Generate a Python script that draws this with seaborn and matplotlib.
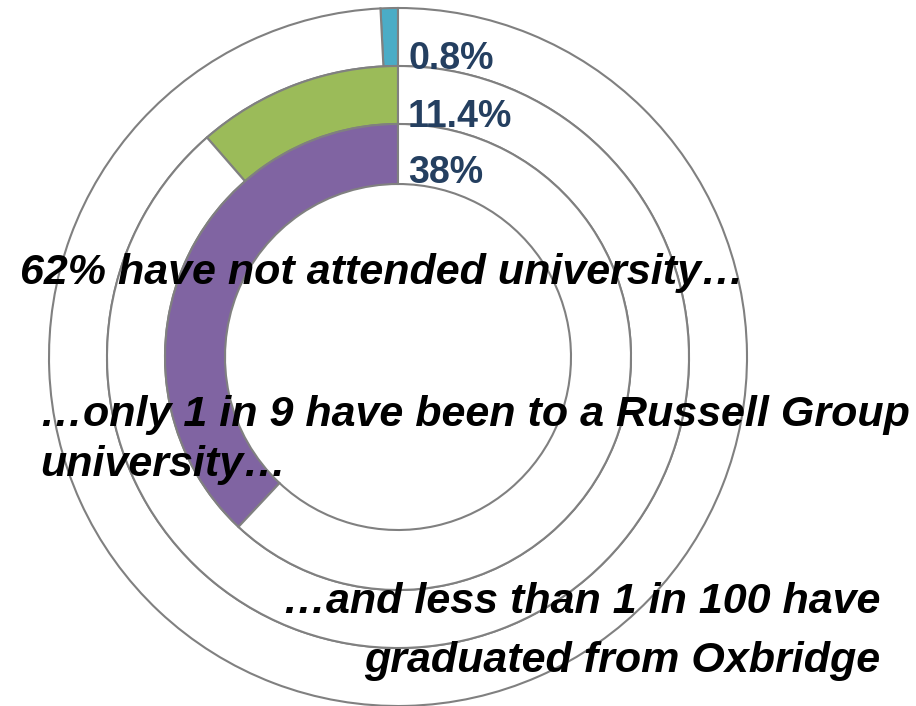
import matplotlib
matplotlib.use('Agg')
import matplotlib.pyplot as plt
import seaborn as sns

# Share of group at each education level (outer ring to inner ring)
ring_labels = ['0.8%', '11.4%', '38%']
ring_values = [0.8, 11.4, 38.0]
ring_colors = ['#4BACC6', '#9BBB59', '#8064A2']

notes = ['62% have not attended university\u2026',
         '\u2026only 1 in 9 have been to a Russell Group',
         'university\u2026',
         '\u2026and less than 1 in 100 have',
         'graduated from Oxbridge']

sns.set_theme(style='white')
plt.rcParams['font.family'] = ['Liberation Sans', 'DejaVu Sans']

fig = plt.figure(figsize=(9.16, 7.06), dpi=100)
ax = fig.add_axes([0, 0, 1, 1])
ax.set_xlim(0, 916)
ax.set_ylim(0, 706)
ax.set_aspect('equal')
ax.axis('off')

cx, cy = 398, 349
radii = [349, 291, 233]
widths = [58, 58, 60]

for val, col, r, w in zip(ring_values, ring_colors, radii, widths):
    ax.pie([val, 100 - val], colors=[col, 'white'], radius=r, center=(cx, cy),
           startangle=90, counterclock=True,
           wedgeprops=dict(width=w, edgecolor='#808080', linewidth=1.5))
ax.set_xlim(0, 916)
ax.set_ylim(0, 706)

# percentage labels next to 12 o'clock
label_y = [706 - 59, 706 - 117, 706 - 173]
for lab, y in zip(ring_labels, label_y):
    ax.text(cx + 10, y, lab, color='#243F60', fontsize=27, fontweight='bold',
            ha='left', va='center')

note_kw = dict(fontsize=31, fontweight='bold', fontstyle='italic', color='black')
ax.text(20, 706 - 284, notes[0], ha='left', va='baseline', **note_kw)
ax.text(40, 706 - 426, notes[1], ha='left', va='baseline', **note_kw)
ax.text(40, 706 - 476, notes[2], ha='left', va='baseline', **note_kw)
ax.text(880, 706 - 613, notes[3], ha='right', va='baseline', **note_kw)
ax.text(880, 706 - 672, notes[4], ha='right', va='baseline', **note_kw)

fig.savefig('out.png', dpi=100)
